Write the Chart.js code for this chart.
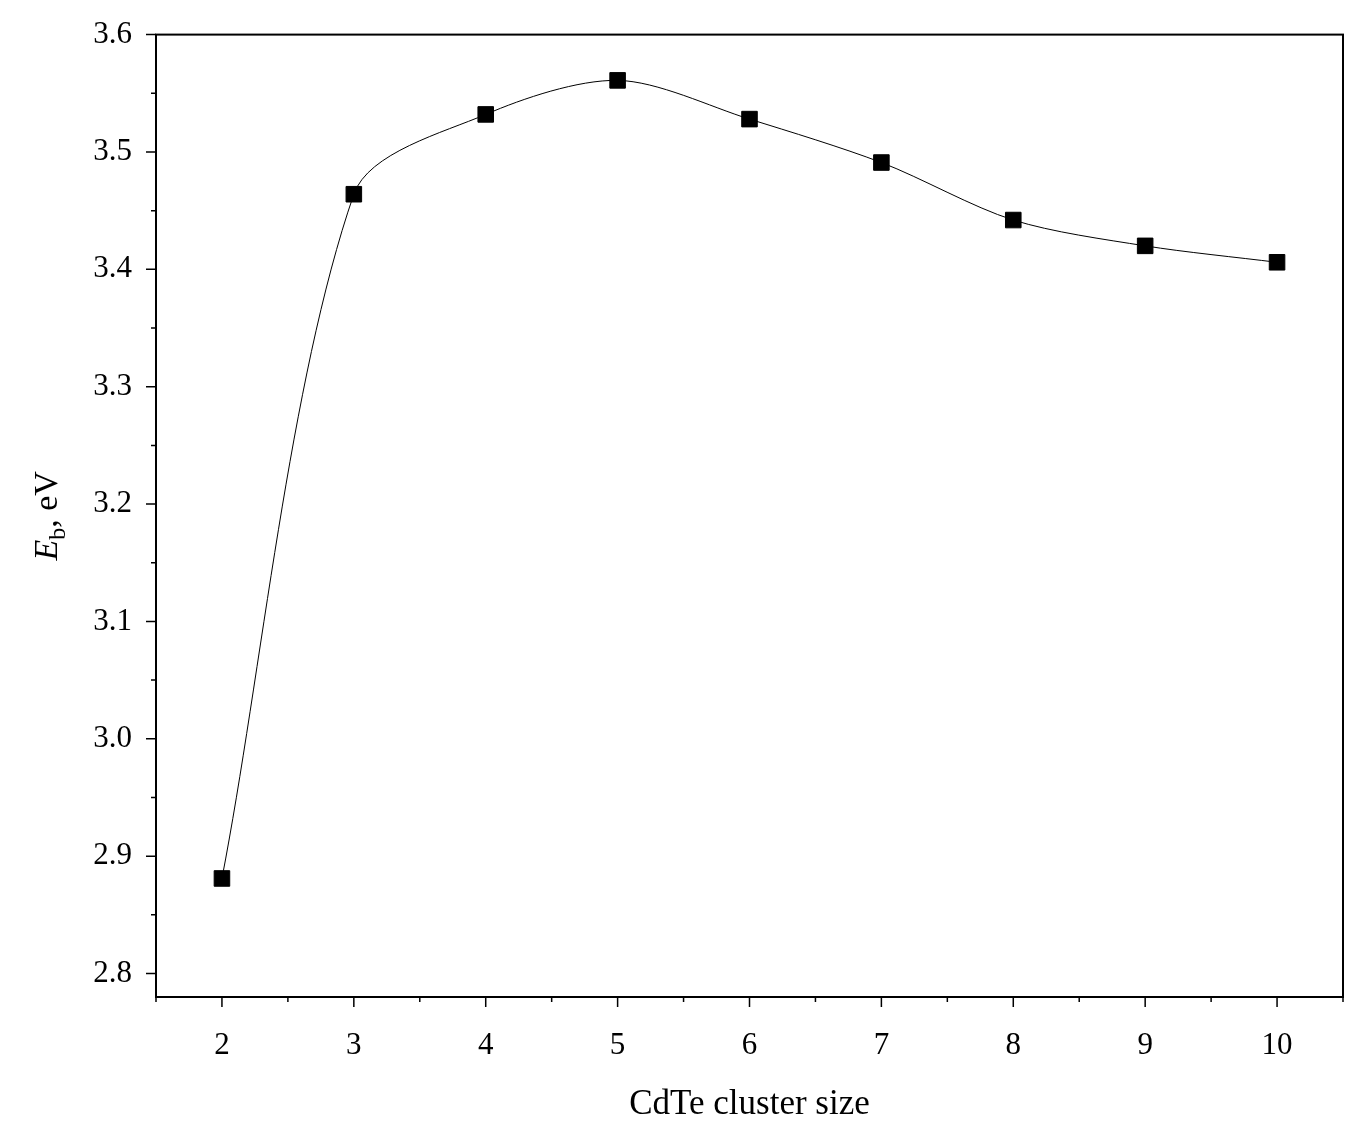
<!DOCTYPE html>
<html lang="en">
<head>
  <title>CdTe binding energy</title>
  <script src="https://cdn.jsdelivr.net/npm/chart.js"></script>
  <style>
    html, body { margin: 0; padding: 0; background: #fff; }
  </style>
</head>
<body>
<canvas id="chart" width="1360" height="1130"></canvas>
<script>
  const clusterSizes = [2, 3, 4, 5, 6, 7, 8, 9, 10];
  const bindingEnergy = [2.881, 3.464, 3.532, 3.561, 3.528, 3.491, 3.442, 3.420, 3.406];
  const xTicks = [2, 3, 4, 5, 6, 7, 8, 9, 10];
  const yTicks = [2.8, 2.9, 3.0, 3.1, 3.2, 3.3, 3.4, 3.5, 3.6];

  const FONT = '"Liberation Serif", "DejaVu Serif", serif';

  // frame + outward major/minor ticks + y title with subscript
  const framePlugin = {
    id: 'frame',
    afterDraw(chart) {
      const { ctx, chartArea: a, scales: { x, y } } = chart;
      ctx.save();
      ctx.strokeStyle = '#000';
      ctx.lineWidth = 2;
      ctx.strokeRect(a.left, a.top, a.right - a.left, a.bottom - a.top);
      ctx.lineWidth = 1.5;
      ctx.beginPath();
      for (let v = 2.8; v <= 3.6001; v += 0.05) {
        const py = y.getPixelForValue(v);
        const major = Math.abs(v * 10 - Math.round(v * 10)) < 0.01;
        ctx.moveTo(a.left, py);
        ctx.lineTo(a.left - (major ? 10 : 5), py);
      }
      for (let v = 1.5; v <= 10.5001; v += 0.5) {
        const px = x.getPixelForValue(v);
        const major = Math.abs(v - Math.round(v)) < 0.01 && v >= 2;
        ctx.moveTo(px, a.bottom);
        ctx.lineTo(px, a.bottom + (major ? 10 : 5));
      }
      ctx.stroke();

      ctx.translate(45, (a.top + a.bottom) / 2);
      ctx.rotate(-Math.PI / 2);
      ctx.fillStyle = '#000';
      ctx.textBaseline = 'alphabetic';
      const parts = [
        { t: 'E', f: 'italic 34px ' + FONT, dy: 0 },
        { t: 'b', f: '24px ' + FONT, dy: 8 },
        { t: ', eV', f: '34px ' + FONT, dy: 0 }
      ];
      let w = 0;
      parts.forEach(p => { ctx.font = p.f; w += ctx.measureText(p.t).width; });
      let cx = -w / 2;
      parts.forEach(p => {
        ctx.font = p.f;
        ctx.fillText(p.t, cx, 12 + p.dy);
        cx += ctx.measureText(p.t).width;
      });
      ctx.restore();
    }
  };

  new Chart(document.getElementById('chart'), {
    type: 'line',
    data: {
      datasets: [{
        data: clusterSizes.map((s, i) => ({ x: s, y: bindingEnergy[i] })),
        borderColor: '#000',
        borderWidth: 1,
        backgroundColor: '#000',
        pointStyle: 'rect',
        pointRadius: 11,
        pointHoverRadius: 11,
        tension: 0.3
      }]
    },
    options: {
      responsive: false,
      animation: false,
      devicePixelRatio: 1,
      layout: { padding: { top: 32, right: 17, left: 0, bottom: 0 } },
      plugins: { legend: { display: false }, tooltip: { enabled: false } },
      scales: {
        x: {
          type: 'linear', min: 1.5, max: 10.5,
          grid: { display: false }, border: { display: false },
          afterBuildTicks: s => { s.ticks = xTicks.map(v => ({ value: v })); },
          afterFit: s => { s.height = 133; },
          ticks: { color: '#000', font: { family: FONT, size: 31 }, padding: 22 },
          title: { display: true, text: 'CdTe cluster size', color: '#000', font: { family: FONT, size: 35 }, padding: { top: 0 } }
        },
        y: {
          type: 'linear', min: 2.78, max: 3.6,
          grid: { display: false }, border: { display: false },
          afterBuildTicks: s => { s.ticks = yTicks.map(v => ({ value: v })); },
          afterFit: s => { s.width = 156; },
          ticks: { color: '#000', font: { family: FONT, size: 31 }, padding: 16, callback: v => v.toFixed(1) }
        }
      }
    },
    plugins: [framePlugin]
  });
</script>
</body>
</html>
